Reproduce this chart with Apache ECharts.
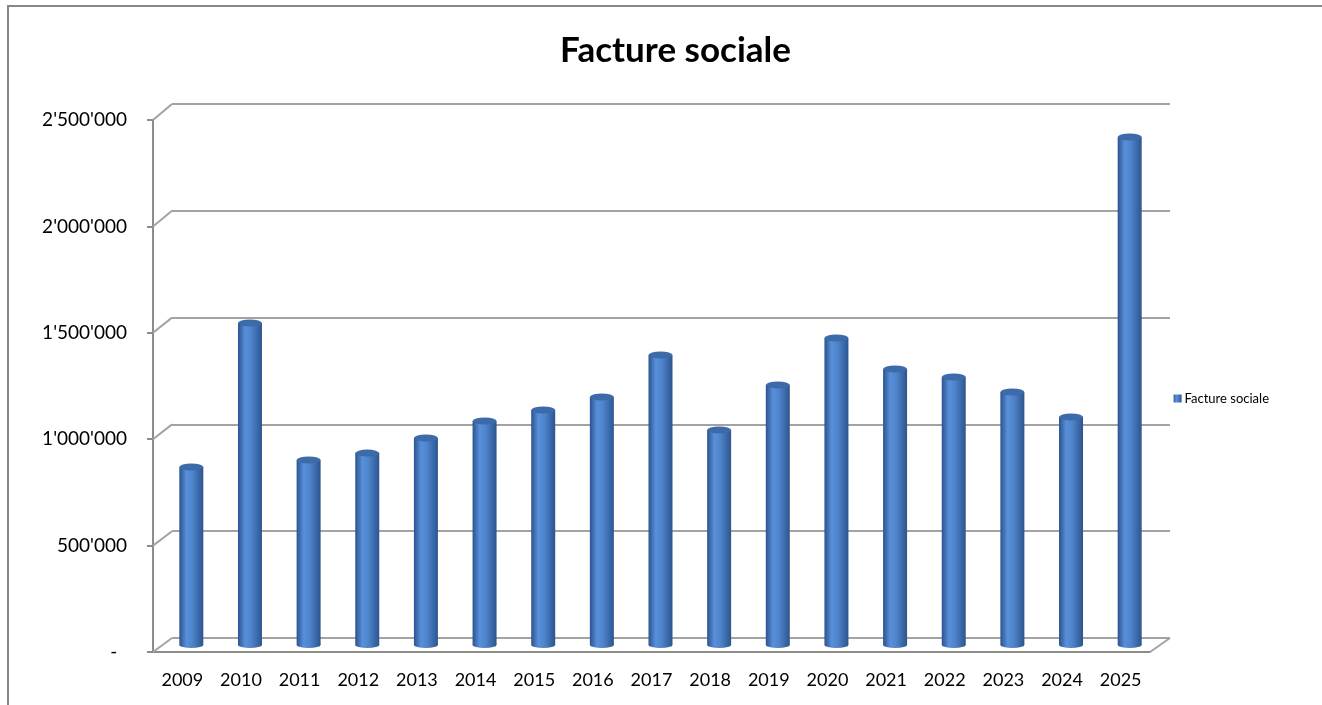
<!DOCTYPE html>
<html>
<head>
<meta charset="utf-8">
<title>Facture sociale</title>
<script src="https://cdn.jsdelivr.net/npm/echarts@6/dist/echarts.min.js"></script>
<style>
  html, body { margin: 0; padding: 0; background: #fff; }
  #chart { width: 1322px; height: 705px; }
</style>
</head>
<body>
<div id="chart"></div>
<script>
// data
const years = ['2009', '2010', '2011', '2012', '2013', '2014', '2015', '2016', '2017',
  '2018', '2019', '2020', '2021', '2022', '2023', '2024', '2025']
const factureSociale = [835000, 1510000, 868000, 900000, 971000, 1051000, 1102000, 1163000,
  1360000, 1008000, 1220000, 1440000, 1295000, 1257000, 1187000, 1069000, 2383000]
const yTicks = [0, 500000, 1000000, 1500000, 2000000, 2500000]
const seriesName = 'Facture sociale'

const FONT = 'Lato'
const GRID_COLOR = '#a3a3a3'
const AXIS_COLOR = '#8c8c8c'

function fmt(v) {
  if (v === 0) return '-  '
  return String(v).replace(/\B(?=(\d{3})+(?!\d))/g, "'")
}

const yMin = yTicks[0]
const yMax = yTicks[yTicks.length - 1]
const yStep = yTicks[1] - yTicks[0]

let myChart = echarts.init(document.getElementById('chart'))

// cylinder body shading
const barColor = new echarts.graphic.LinearGradient(0, 0, 1, 0, [
  { offset: 0, color: '#2b5390' },
  { offset: 0.3, color: '#5890d8' },
  { offset: 0.55, color: '#4e84cb' },
  { offset: 1, color: '#2d558f' }
])

const option = {
  backgroundColor: '#fff',
  animation: false,
  title: {
    text: 'Facture sociale',
    left: 555,
    top: 28,
    textStyle: { fontFamily: FONT, fontWeight: 'bold', fontSize: 35, color: '#000' }
  },
  legend: {
    right: 48,
    top: 387,
    orient: 'vertical',
    itemWidth: 8,
    itemHeight: 8,
    itemGap: 4,
    data: [{ name: seriesName, icon: 'rect' }],
    textStyle: { fontFamily: FONT, fontSize: 13, color: '#000', padding: [0, 0, 0, -2] }
  },
  grid: [
    // front: axes with labels
    { left: 153, right: 172, top: 120, bottom: 53 },
    // back wall: gridlines
    { left: 172, right: 152, top: 104, bottom: 67 },
    // mid depth: the cylinders
    { left: 162, right: 163, top: 112, bottom: 60 }
  ],
  xAxis: [
    {
      gridIndex: 0, type: 'category', data: years,
      axisLine: { lineStyle: { color: AXIS_COLOR, width: 2 } },
      axisTick: { length: 7, lineStyle: { color: AXIS_COLOR, width: 2 } },
      axisLabel: { fontFamily: FONT, fontSize: 18, color: '#000', margin: 19 }
    },
    { gridIndex: 1, type: 'category', data: years, show: false },
    { gridIndex: 2, type: 'category', data: years, show: false }
  ],
  yAxis: [
    {
      gridIndex: 0, type: 'value', min: yMin, max: yMax, interval: yStep,
      axisLine: { show: true, lineStyle: { color: AXIS_COLOR, width: 2 } },
      axisTick: { show: true, length: 6, lineStyle: { color: AXIS_COLOR, width: 2 } },
      splitLine: { show: false },
      axisLabel: { fontFamily: FONT, fontSize: 19, color: '#000', margin: 26, formatter: fmt }
    },
    {
      gridIndex: 1, type: 'value', min: yMin, max: yMax, interval: yStep,
      axisLine: { show: false }, axisTick: { show: false }, axisLabel: { show: false },
      splitLine: { show: true, lineStyle: { color: GRID_COLOR, width: 2 } }
    },
    {
      gridIndex: 2, type: 'value', min: yMin, max: yMax, interval: yStep, show: false,
      splitLine: { show: false }
    }
  ],
  series: [
    {
      name: seriesName,
      type: 'bar',
      xAxisIndex: 2, yAxisIndex: 2,
      barWidth: 24,
      data: factureSociale,
      itemStyle: {
        color: barColor,
        shadowColor: 'rgba(0,0,0,0.25)', shadowBlur: 4, shadowOffsetX: 1, shadowOffsetY: 1
      },
      z: 3
    },
    {
      // rounded bottom of each cylinder
      name: seriesName + ' base',
      type: 'pictorialBar',
      xAxisIndex: 2, yAxisIndex: 2,
      symbol: 'circle',
      symbolSize: [24, 6],
      symbolPosition: 'start',
      symbolOffset: [0, '50%'],
      data: factureSociale,
      itemStyle: { color: barColor },
      z: 3,
      legendHoverLink: false
    },
    {
      // top ellipse of each cylinder
      name: seriesName + ' top',
      type: 'pictorialBar',
      xAxisIndex: 2, yAxisIndex: 2,
      symbol: 'circle',
      symbolSize: [24, 7],
      symbolPosition: 'end',
      symbolOffset: [0, '-50%'],
      data: factureSociale,
      itemStyle: { color: '#3d6aa8' },
      z: 4,
      legendHoverLink: false
    }
  ]
}
myChart.setOption(option)

// 3D box edges: join each front tick to its back-wall gridline
function drawDepthEdges() {
  const front = myChart.getModel().getComponent('grid', 0).coordinateSystem.getRect()
  const back = myChart.getModel().getComponent('grid', 1).coordinateSystem.getRect()
  const lines = yTicks.map(v => ({
    type: 'line',
    shape: {
      x1: front.x, y1: myChart.convertToPixel({ yAxisIndex: 0 }, v),
      x2: back.x, y2: myChart.convertToPixel({ yAxisIndex: 1 }, v)
    },
    style: { stroke: GRID_COLOR, lineWidth: 2 },
    z: 1
  }))
  // right edge of the floor
  lines.push({
    type: 'line',
    shape: {
      x1: front.x + front.width, y1: myChart.convertToPixel({ yAxisIndex: 0 }, yMin),
      x2: back.x + back.width, y2: myChart.convertToPixel({ yAxisIndex: 1 }, yMin)
    },
    style: { stroke: GRID_COLOR, lineWidth: 2 },
    z: 1
  })
  // chart frame
  lines.push({
    type: 'rect',
    shape: { x: 8, y: 6, width: 1330, height: 720 },
    style: { fill: null, stroke: '#888', lineWidth: 2 },
    z: 0
  })
  myChart.setOption({ graphic: lines })
}
drawDepthEdges()
</script>
</body>
</html>
